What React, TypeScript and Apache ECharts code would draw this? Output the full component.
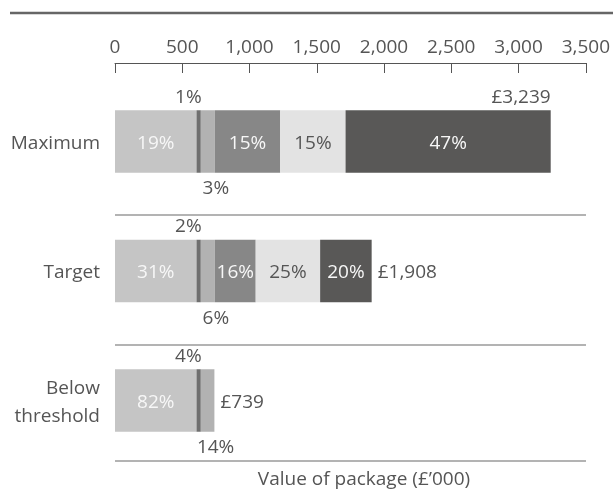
import React, { useEffect, useRef } from "react";
import * as echarts from "echarts";

const categories = ["Maximum", "Target", "Below\nthreshold"];
const fixedPay = [606, 606, 606];
const pension = [32, 32, 32];
const benefits = [104, 104, 101];
const annualBonus = [486, 304, null];
const deferredBonus = [486, 479, null];
const ltip = [1525, 383, null];

const pctFixed = ["19%", "31%", "82%"];
const pctPension = ["1%", "2%", "4%"];
const pctBenefits = ["3%", "6%", "14%"];
const pctAnnual = ["15%", "16%", ""];
const pctDeferred = ["15%", "25%", ""];
const pctLtip = ["47%", "20%", ""];

const totals = [3239, 1908, 739];
const totalLabels = ["£3,239", "£1,908", "£739"];

const xTicks = { min: 0, max: 3500, interval: 500 };

const FONT = "'Open Sans', sans-serif";
const TEXT = "#555555";
const FS = 19;
const BAR_W = 62.5;

export default function App() {
  const ref = useRef<HTMLDivElement>(null);
  useEffect(() => {
    if (!ref.current) return;
    const chart = echarts.init(ref.current, null, { renderer: "svg" });

    const mkSeries = (
      name: string,
      data: (number | null)[],
      color: string,
      labels: string[],
      labelOpt: any
    ) => ({
      name,
      type: "bar",
      stack: "total",
      barWidth: BAR_W,
      data: data.map((v) => (v === null ? "-" : v)),
      itemStyle: { color },
      label: {
        show: true,
        fontFamily: FONT,
        fontSize: FS,
        formatter: (p: any) => labels[p.dataIndex],
        ...labelOpt,
      },
      emphasis: { disabled: true },
    });

    const option: any = {
      animation: false,
      grid: { left: 115, right: 26.3, top: 76.75, bottom: 24.75, containLabel: false },
      xAxis: {
        type: "value",
        position: "top",
        offset: 13.75,
        min: xTicks.min,
        max: xTicks.max,
        interval: xTicks.interval,
        axisLine: { show: true, lineStyle: { color: TEXT, width: 1 } },
        axisTick: { show: true, inside: true, length: 10, lineStyle: { color: TEXT } },
        axisLabel: {
          margin: 8,
          color: TEXT,
          fontFamily: FONT,
          fontSize: FS,
          formatter: (v: number) => v.toLocaleString("en-US"),
        },
        splitLine: { show: false },
      },
      yAxis: {
        type: "category",
        inverse: true,
        data: categories,
        axisLine: { show: false },
        axisTick: { show: false },
        axisLabel: {
          margin: 15,
          color: TEXT,
          fontFamily: FONT,
          fontSize: FS,
          lineHeight: 28,
          align: "right",
        },
      },
      series: [
        mkSeries("Fixed pay", fixedPay, "#c5c5c5", pctFixed, { position: "inside", color: "#f7f7f7" }),
        mkSeries("Pension", pension, "#6f6f6f", pctPension, {
          position: "top",
          align: "right",
          offset: [3, 0],
          distance: 5,
          color: TEXT,
        }),
        mkSeries("Benefits", benefits, "#b2b2b2", pctBenefits, {
          position: "bottom",
          align: "center",
          offset: [8, 0],
          distance: 5,
          color: TEXT,
        }),
        mkSeries("Annual bonus", annualBonus, "#878787", pctAnnual, { position: "inside", color: "#f7f7f7" }),
        mkSeries("Deferred bonus", deferredBonus, "#e3e3e3", pctDeferred, { position: "inside", color: TEXT }),
        mkSeries("LTIP", ltip, "#595857", pctLtip, { position: "inside", color: "#f7f7f7" }),
        {
          name: "Total",
          type: "custom",
          data: totals.map((t, i) => [t, i]),
          encode: { x: 0, y: 1 },
          z: 5,
          renderItem: (params: any, api: any) => {
            const i = params.dataIndex;
            const pt = api.coord([api.value(0), api.value(1)]);
            const above = i === 0;
            return {
              type: "text",
              x: above ? pt[0] : pt[0] + 6,
              y: above ? pt[1] - BAR_W / 2 - 5 : pt[1],
              style: {
                text: totalLabels[i],
                fill: TEXT,
                font: `${FS}px ${FONT}`,
                align: above ? "right" : "left",
                verticalAlign: above ? "bottom" : "middle",
              },
            };
          },
        },
      ],
      graphic: [
        { type: "line", shape: { x1: 10, y1: 13, x2: 613, y2: 13 }, style: { stroke: "#666666", lineWidth: 2.5 } },
        { type: "line", shape: { x1: 115, y1: 215, x2: 586, y2: 215 }, style: { stroke: "#9a9a9a", lineWidth: 1.5 } },
        { type: "line", shape: { x1: 115, y1: 345, x2: 586, y2: 345 }, style: { stroke: "#9a9a9a", lineWidth: 1.5 } },
        { type: "line", shape: { x1: 115, y1: 461, x2: 586, y2: 461 }, style: { stroke: "#9a9a9a", lineWidth: 1.5 } },
        {
          type: "text",
          x: 364,
          y: 478,
          style: {
            text: "Value of package (£’000)",
            fill: TEXT,
            font: `${FS}px ${FONT}`,
            align: "center",
            verticalAlign: "middle",
          },
        },
      ],
    };
    chart.setOption(option);
    return () => chart.dispose();
  }, []);
  return (
    <div
      ref={ref}
      style={{ position: "fixed", left: 0, top: 0, width: 613, height: 490 }}
    />
  );
}
